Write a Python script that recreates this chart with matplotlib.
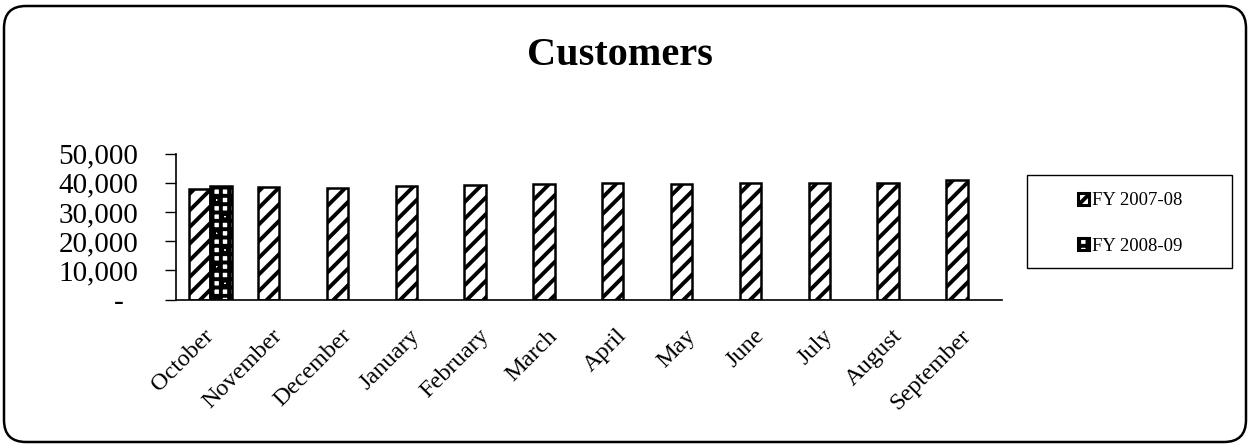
import numpy as np
import matplotlib
matplotlib.use("Agg")
import matplotlib.pyplot as plt
from matplotlib.patches import FancyBboxPatch, Rectangle, Patch
from matplotlib.ticker import FuncFormatter

# ── data ─────────────────────────────────────────────────────────────────────
months = ["October", "November", "December", "January", "February", "March",
          "April", "May", "June", "July", "August", "September"]
fy_0708 = [37700, 38400, 38100, 38900, 39200, 39500,
           39800, 39600, 39800, 40000, 40000, 40900]
fy_0809 = [38900, None, None, None, None, None,
           None, None, None, None, None, None]
series_names = ["FY 2007-08", "FY 2008-09"]
y_ticks = [0, 10000, 20000, 30000, 40000, 50000]

plt.rcParams["font.family"] = ["Liberation Serif", "DejaVu Serif"]
plt.rcParams["hatch.linewidth"] = 2.8
plt.rcParams["hatch.color"] = "black"

fig = plt.figure(figsize=(12.49, 4.47), dpi=100)

# rounded outer border (inch coords so the corners stay round)
border = FancyBboxPatch((0.04, 0.05), 12.42, 4.36,
                        boxstyle="round,pad=0,rounding_size=0.22",
                        transform=fig.dpi_scale_trans, fill=False,
                        edgecolor="black", linewidth=1.8)
fig.add_artist(border)

fig.text(620 / 1249, 1 - 65 / 447, "Customers", ha="center", va="baseline",
         fontsize=29, fontweight="bold")

ax = fig.add_axes([176 / 1249, 147.5 / 447, 826 / 1249, 146 / 447])

x = np.arange(len(months))
w = 0.31
ax.bar(x - w / 2, fy_0708, width=w, color="white", edgecolor="black",
       linewidth=1.8, hatch="//")
x2 = [i for i, v in enumerate(fy_0809) if v is not None]
v2 = [v for v in fy_0809 if v is not None]
ax.bar(np.array(x2) + w / 2, v2, width=w, color="white", edgecolor="black",
       linewidth=1.8, hatch="++o")

ax.set_xlim(-0.5, len(months) - 0.5)
ax.set_ylim(0, 50000)
ax.set_yticks(y_ticks)
ax.yaxis.set_major_formatter(FuncFormatter(
    lambda v, p: "-  " if v == 0 else f"{v:,.0f}"))
ax.tick_params(axis="y", length=8, width=1, labelsize=21, pad=19)

ax.set_xticks(x)
ax.set_xticklabels(months, rotation=45, ha="right", va="center",
                   rotation_mode="anchor", fontsize=17.5)
ax.tick_params(axis="x", length=0, pad=24)

for s in ["top", "right"]:
    ax.spines[s].set_visible(False)
ax.spines["left"].set_linewidth(1.2)
ax.spines["bottom"].set_linewidth(1.2)

# legend box
fig.add_artist(Rectangle((1027 / 1249, 1 - 268 / 447), 205 / 1249, 93 / 447,
                         transform=fig.transFigure, fill=False,
                         edgecolor="black", linewidth=1.0))
handles = [Patch(facecolor="white", edgecolor="black", hatch="//", linewidth=2.2),
           Patch(facecolor="white", edgecolor="black", hatch="++o", linewidth=2.2)]
fig.legend(handles, series_names, loc="center", frameon=False,
           bbox_to_anchor=(1130 / 1249, 1 - 223.5 / 447),
           fontsize=13.5, handlelength=0.6, handleheight=0.6,
           handletextpad=0.15, labelspacing=1.5)

fig.savefig("out.png", dpi=100)
